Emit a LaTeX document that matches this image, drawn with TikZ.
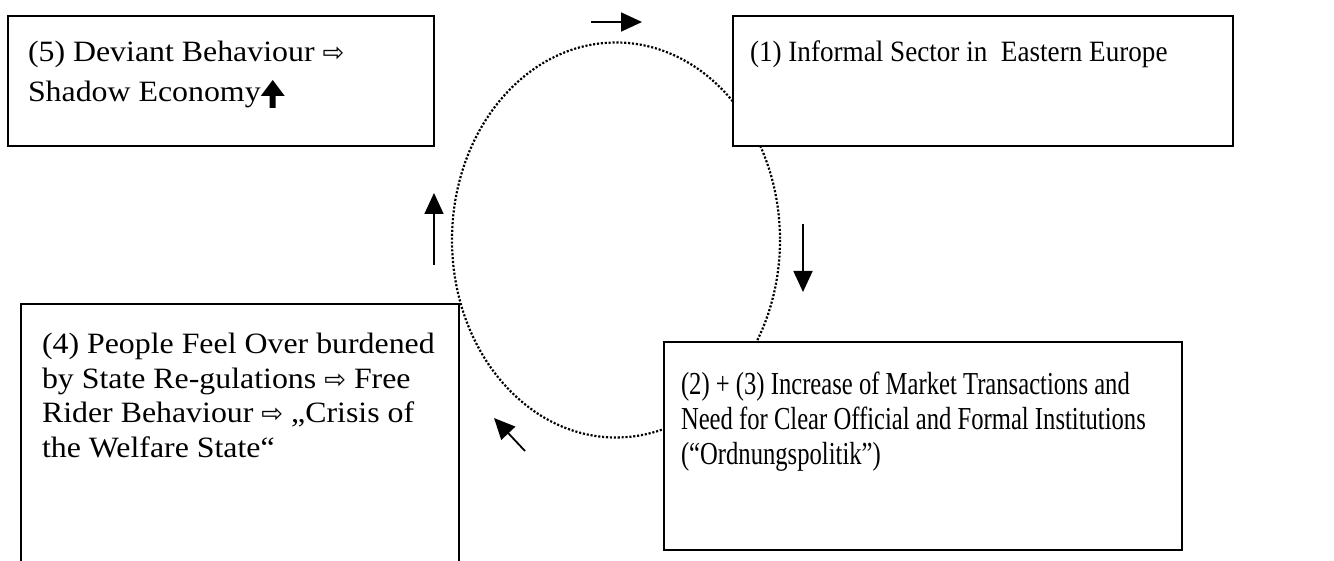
\documentclass[tikz,border=0pt]{standalone}
\usepackage{fontspec}
\setmainfont{Liberation Serif}
% the box texts are set with slightly different widths
\newfontfamily\fwide{Liberation Serif}[FakeStretch=1.08]
\newfontfamily\fone{Liberation Serif}[FakeStretch=0.92]
\newfontfamily\fnarrow{Liberation Serif}[FakeStretch=0.77]
\newfontfamily\symfont{DejaVu Sans}
\usetikzlibrary{arrows.meta}

% small white arrow used inside the box texts
\newcommand{\imp}{{\symfont\fontsize{26}{26}\selectfont ⇨}}
% heavy upward arrow after "Shadow Economy"
\newcommand{\upheavy}{\tikz[x=1pt,y=1pt,baseline=6pt]
  \fill (-3,0) -- (3,0) -- (3,12) -- (12,12) -- (0,28) -- (-12,12) -- (-3,12) -- cycle;}

\begin{document}
\begin{tikzpicture}[x=1pt,y=-1pt,
  box/.style={draw, line width=2pt, fill=white, rectangle, inner sep=0pt,
              outer sep=0pt, anchor=north west},
  txt/.style={anchor=base west, inner sep=0pt, outer sep=0pt},
  cyc/.style={line width=2.2pt, dash pattern=on 2.1pt off 1.8pt},
  flow/.style={line width=1.8pt, -{Triangle[length=21pt,width=19pt]}}]

\clip (0,0) rectangle (1334,561);
\fill[white] (0,0) rectangle (1334,561);

% dotted cycle behind the boxes
\draw[cyc] (616,240) ellipse [x radius=164, y radius=197.5];

% boxes
\node[box, minimum width=426pt, minimum height=130pt] (b5) at (8,16) {};
\node[box, minimum width=500pt, minimum height=130pt] (b1) at (733,16) {};
\node[box, minimum width=438pt, minimum height=300pt] (b4) at (21,304) {};
\node[box, minimum width=518pt, minimum height=208pt] (b23) at (664,342) {};

% texts
\node[txt] (t5) at (28,62) {\parbox[t]{800pt}{\fwide\fontsize{29.5}{40}\selectfont
  (5) Deviant Behaviour \imp\\
  Shadow Economy\upheavy}};
\node[txt] (t1) at (750,62) {\parbox[t]{800pt}{\fone\fontsize{29.5}{34.5}\selectfont
  (1) Informal Sector in\ \ Eastern Europe}};
\node[txt] (t4) at (42,354) {\parbox[t]{800pt}{\fwide\fontsize{29.5}{34.5}\selectfont
  (4) People Feel Over burdened\\
  by State Re-gulations \imp{} Free\\
  Rider Behaviour \imp{} „Crisis of\\
  the Welfare State“}};
\node[txt] (t23) at (681,395) {\parbox[t]{800pt}{\fnarrow\fontsize{32}{35}\selectfont
  (2) + (3) Increase of Market Transactions and\\
  Need for Clear Official and Formal Institutions\\
  (“Ordnungspolitik”)}};

% direction arrows along the cycle
\coordinate (a1s) at (591,22);  \coordinate (a1e) at (642,22);
\coordinate (a2s) at (803,224); \coordinate (a2e) at (803,292);
\coordinate (a3s) at (525,451); \coordinate (a3e) at (494,418);
\coordinate (a4s) at (434,265); \coordinate (a4e) at (434,193);
\draw[flow] (a1s) -- (a1e);
\draw[flow] (a2s) -- (a2e);
\draw[flow] (a3s) -- (a3e);
\draw[flow] (a4s) -- (a4e);
\end{tikzpicture}
\end{document}
